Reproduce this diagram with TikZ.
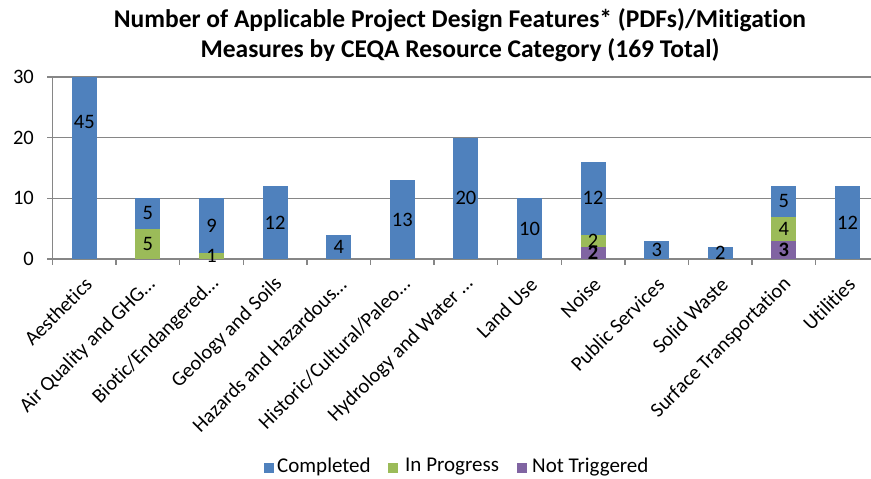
\documentclass[tikz,border=0pt]{standalone}
\usepackage{fontspec}
\setmainfont{Carlito}[Ligatures=CommonOff]
\definecolor{compl}{HTML}{4F81BD}
\definecolor{inprog}{HTML}{9BBB59}
\definecolor{nottrig}{HTML}{8064A2}
\definecolor{gridgray}{HTML}{868686}
\tikzset{
  val/.style={font=\fontsize{20.5}{24}\selectfont, inner sep=0pt},
  cat/.style={font=\fontsize{20.5}{24}\selectfont, rotate=45, anchor=east, inner sep=0pt},
  key/.style={minimum size=9.5pt, inner sep=0pt},
  keytxt/.style={font=\fontsize{21}{24}\selectfont, anchor=west, inner sep=0pt},
}
\begin{document}
\begin{tikzpicture}[x=1pt, y=1pt]
    \useasboundingbox (0,0) rectangle (871,-479);
    % title
    \node (t1) at (460,-20) {\fontsize{25.5}{30}\selectfont\bfseries Number of Applicable Project Design Features* (PDFs)/Mitigation};
    \node (t2) at (460,-50) {\fontsize{25.5}{30}\selectfont\bfseries Measures by CEQA Resource Category (169 Total)};
    \begin{scope}[shift={(0,-259)}, y=6.07pt]
        % grid and axes
        \foreach \v in {10,20,30}
            \draw [gridgray, line width=1.3pt] (47,\v) -- (871,\v);
        \draw [gridgray, line width=1.3pt] (52.5,0) -- (52.5,30);
        \draw [gridgray, line width=1.3pt] (47,0) -- (871,0);
        \foreach \i in {0,...,12}
            \draw [gridgray, line width=1.3pt] ({52.5+63.6*\i},0) -- ({52.5+63.6*\i},-1);
        \foreach \v in {0,10,20,30}
            \node [val, anchor=east] (y\v) at (34,\v) {\v};
        % bars: index / not triggered / in progress / completed
        \foreach \i/\a/\b/\c in {0/0/0/30, 1/0/5/5, 2/0/1/9, 3/0/0/12, 4/0/0/4, 5/0/0/13, 6/0/0/20,
                                 7/0/0/10, 8/2/2/12, 9/0/0/3, 10/0/0/2, 11/3/4/5, 12/0/0/12} {
            \pgfmathsetmacro\cx{84.3+63.6*\i}
            \fill [nottrig] (\cx-12.5,0) rectangle (\cx+12.5,\a);
            \fill [inprog] (\cx-12.5,\a) rectangle (\cx+12.5,\a+\b);
            \fill [compl] (\cx-12.5,\a+\b) rectangle (\cx+12.5,\a+\b+\c);
        }
        % value labels
        \node [val] (v1) at (84.3,22.5) {45};
        \node [val] (v2) at (147.9,7.5) {5};
        \node [val] (v3) at (147.9,2.5) {5};
        \node [val] (v4) at (211.5,5.5) {9};
        \node [val] (v5) at (211.5,0.5) {1};
        \node [val] (v6) at (275.1,6) {12};
        \node [val] (v7) at (338.7,2) {4};
        \node [val] (v8) at (402.3,6.5) {13};
        \node [val] (v9) at (465.9,10) {20};
        \node [val] (v10) at (529.5,5) {10};
        \node [val] (v11) at (593.1,10) {12};
        \node [val] (v12) at (593.1,3) {2};
        \node [val] (v13) at (593.1,1) {\bfseries 2};
        \node [val] (v14) at (656.7,1.5) {3};
        \node [val] (v15) at (720.3,1) {2};
        \node [val] (v16) at (783.9,9.5) {5};
        \node [val] (v17) at (783.9,5) {4};
        \node [val] (v18) at (783.9,1.5) {\bfseries 3};
        \node [val] (v19) at (847.5,6) {12};
    \end{scope}
    % category labels
    \foreach \i/\name in {0/Aesthetics, 1/Air Quality and GHG…, 2/{Biotic/Endangered…}, 3/Geology and Soils,
                          4/Hazards and Hazardous…, 5/{Historic/Cultural/Paleo…}, 6/Hydrology and Water …,
                          7/Land Use, 8/Noise, 9/Public Services, 10/Solid Waste,
                          11/Surface Transportation, 12/Utilities}
        \node [cat] (c\i) at ({88.5+63.6*\i},-281) {\name};
    % legend
    \node [key, fill=compl] (k1) at (269,-468) {};
    \node [keytxt] (l1) at (277,-467) {Completed};
    \node [key, fill=inprog] (k2) at (393,-468) {};
    \node [keytxt] (l2) at (405,-467) {In Progress};
    \node [key, fill=nottrig] (k3) at (522,-468) {};
    \node [keytxt] (l3) at (532,-467) {Not Triggered};
\end{tikzpicture}
\end{document}
